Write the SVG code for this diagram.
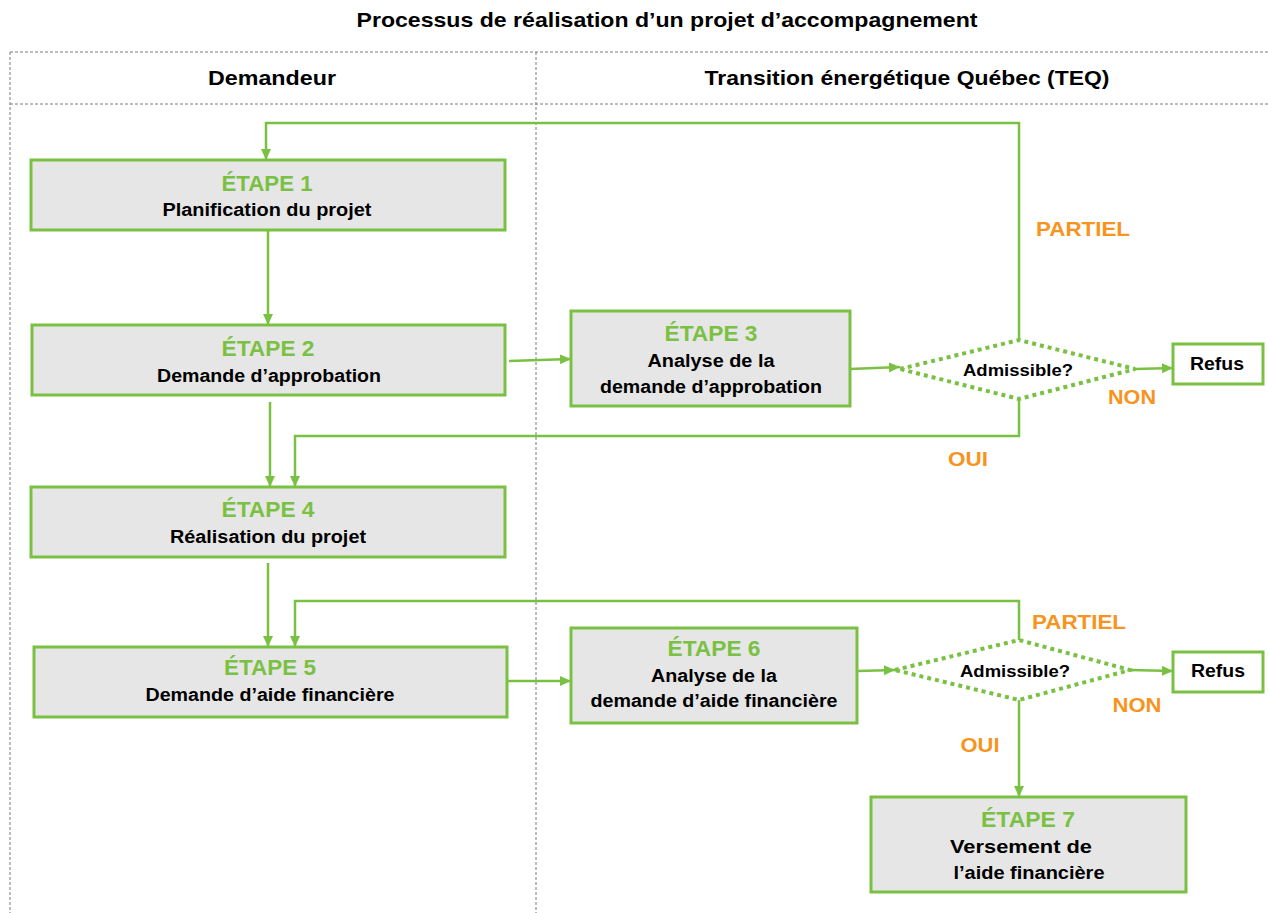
<svg xmlns="http://www.w3.org/2000/svg" width="1268" height="913" viewBox="0 0 1268 913">
<defs>
<marker id="ah" markerUnits="userSpaceOnUse" markerWidth="12" markerHeight="12" viewBox="0 0 12 12" refX="11" refY="6" orient="auto">
<path d="M0,1 L11,6 L0,11 Z" fill="#7AC143"/>
</marker>
<style>
text{font-family:"Liberation Sans",Arial,sans-serif;font-weight:bold;text-anchor:middle}
.lane{fill:none;stroke:#7a7a7a;stroke-width:1;stroke-dasharray:3 2}
.box{fill:#e6e6e6;stroke:#7AC143;stroke-width:3}
.wbox{fill:#fff;stroke:#7AC143;stroke-width:3}
.dia{fill:#fff;stroke:#7AC143;stroke-width:4;stroke-dasharray:4 4}
.con{fill:none;stroke:#7AC143;stroke-width:2.5}
.arr{marker-end:url(#ah)}
.step{fill:#7AC143;font-size:22px}
.sub{fill:#000;font-size:17.5px}
.hdr{fill:#000;font-size:20.5px}
.lbl{fill:#F7941D;font-size:20.5px}
</style>
</defs>
<rect width="1268" height="913" fill="#fff"/>
<g id="lanes">
<line class="lane" x1="10" y1="52" x2="1268" y2="52"/>
<line class="lane" x1="10" y1="104" x2="1268" y2="104"/>
<line class="lane" x1="10" y1="52" x2="10" y2="913"/>
<line class="lane" x1="536" y1="52" x2="536" y2="913"/>
<text class="hdr" x="667" y="27" textLength="621" lengthAdjust="spacingAndGlyphs">Processus de réalisation d’un projet d’accompagnement</text>
<text class="hdr" x="272" y="85" textLength="128" lengthAdjust="spacingAndGlyphs">Demandeur</text>
<text class="hdr" x="907" y="85" textLength="405" lengthAdjust="spacingAndGlyphs">Transition énergétique Québec (TEQ)</text>
</g>
<g id="connectors">
<path class="con arr" d="M1019,340 V123 H266 V160"/>
<path class="con arr" d="M268,230 V325"/>
<path class="con arr" d="M509,361 L571,359"/>
<path class="con arr" d="M850,369 L900,367"/>
<path class="con arr" d="M1135,369 L1173,368"/>
<path class="con arr" d="M1019,399 V436 H295 V487"/>
<path class="con arr" d="M270,402 V487"/>
<path class="con arr" d="M268,563 V647"/>
<path class="con arr" d="M1019,640 V601 H295 V647"/>
<path class="con arr" d="M508,681 H571"/>
<path class="con arr" d="M858,671 L895,670"/>
<path class="con arr" d="M1130,670 L1173,671"/>
<path class="con arr" d="M1019,700 V797"/>
<text class="lbl" x="1083" y="236" textLength="94" lengthAdjust="spacingAndGlyphs">PARTIEL</text>
<text class="lbl" x="1132" y="404" textLength="48" lengthAdjust="spacingAndGlyphs">NON</text>
<text class="lbl" x="968" y="466" textLength="40" lengthAdjust="spacingAndGlyphs">OUI</text>
<text class="lbl" x="1079" y="629" textLength="94" lengthAdjust="spacingAndGlyphs">PARTIEL</text>
<text class="lbl" x="1137" y="712" textLength="49" lengthAdjust="spacingAndGlyphs">NON</text>
<text class="lbl" x="980" y="752" textLength="39" lengthAdjust="spacingAndGlyphs">OUI</text>
</g>
<g id="etape1">
<rect class="box" x="31" y="160" width="474" height="70"/>
<text class="step" x="267" y="191" textLength="91" lengthAdjust="spacingAndGlyphs">ÉTAPE 1</text>
<text class="sub" x="267" y="216" textLength="209" lengthAdjust="spacingAndGlyphs">Planification du projet</text>
</g>
<g id="etape2">
<rect class="box" x="32" y="325" width="473" height="70"/>
<text class="step" x="268" y="356" textLength="93" lengthAdjust="spacingAndGlyphs">ÉTAPE 2</text>
<text class="sub" x="269" y="382" textLength="224" lengthAdjust="spacingAndGlyphs">Demande d’approbation</text>
</g>
<g id="etape3">
<rect class="box" x="571" y="311" width="279" height="95"/>
<text class="step" x="711" y="341" textLength="93" lengthAdjust="spacingAndGlyphs">ÉTAPE 3</text>
<text class="sub" x="711" y="367" textLength="127" lengthAdjust="spacingAndGlyphs">Analyse de la</text>
<text class="sub" x="711" y="393" textLength="222" lengthAdjust="spacingAndGlyphs">demande d’approbation</text>
</g>
<g id="decision1">
<polygon class="dia" points="900,369 1019,340 1135,369 1019,399"/>
<text class="sub" x="1018" y="376" textLength="110" lengthAdjust="spacingAndGlyphs" style="font-size:16.5px">Admissible?</text>
</g>
<g id="refus1">
<rect class="wbox" x="1173" y="344" width="90" height="40"/>
<text class="sub" x="1217" y="370" textLength="54" lengthAdjust="spacingAndGlyphs">Refus</text>
</g>
<g id="etape4">
<rect class="box" x="31" y="487" width="474" height="70"/>
<text class="step" x="268" y="517" textLength="93" lengthAdjust="spacingAndGlyphs">ÉTAPE 4</text>
<text class="sub" x="268" y="543" textLength="196" lengthAdjust="spacingAndGlyphs">Réalisation du projet</text>
</g>
<g id="etape5">
<rect class="box" x="34" y="647" width="473" height="70"/>
<text class="step" x="270" y="675" textLength="92" lengthAdjust="spacingAndGlyphs">ÉTAPE 5</text>
<text class="sub" x="270" y="701" textLength="249" lengthAdjust="spacingAndGlyphs">Demande d’aide financière</text>
</g>
<g id="etape6">
<rect class="box" x="571" y="628" width="286" height="95"/>
<text class="step" x="714" y="656" textLength="93" lengthAdjust="spacingAndGlyphs">ÉTAPE 6</text>
<text class="sub" x="714" y="682" textLength="126" lengthAdjust="spacingAndGlyphs">Analyse de la</text>
<text class="sub" x="714" y="707" textLength="247" lengthAdjust="spacingAndGlyphs">demande d’aide financière</text>
</g>
<g id="decision2">
<polygon class="dia" points="895,670 1019,640 1130,670 1019,700"/>
<text class="sub" x="1015" y="677" textLength="110" lengthAdjust="spacingAndGlyphs" style="font-size:16.5px">Admissible?</text>
</g>
<g id="refus2">
<rect class="wbox" x="1173" y="652" width="90" height="40"/>
<text class="sub" x="1218" y="677" textLength="54" lengthAdjust="spacingAndGlyphs">Refus</text>
</g>
<g id="etape7">
<rect class="box" x="871" y="797" width="315" height="95"/>
<text class="step" x="1028" y="827" textLength="94" lengthAdjust="spacingAndGlyphs">ÉTAPE 7</text>
<text class="sub" x="1021" y="853" textLength="142" lengthAdjust="spacingAndGlyphs">Versement de</text>
<text class="sub" x="1029" y="879" textLength="151" lengthAdjust="spacingAndGlyphs">l’aide financière</text>
</g>
</svg>
